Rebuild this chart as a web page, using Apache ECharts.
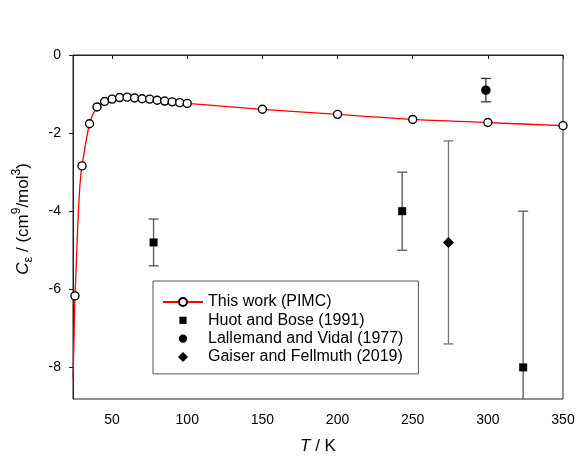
<!DOCTYPE html>
<html><head><meta charset="utf-8">
<script src="https://cdn.jsdelivr.net/npm/echarts@6/dist/echarts.min.js"></script>
<style>html,body{margin:0;padding:0;background:#fff}#c{width:578px;height:464px}</style>
</head><body><div id="c"></div>
<script>
// PIMC (this work) points
const pimcT = [25.3, 30, 35, 40, 45, 50, 55, 60, 65, 70, 75, 80, 85, 90, 95, 100, 150, 200, 250, 300, 350];
const pimcC = [-6.17, -2.84, -1.76, -1.33, -1.19, -1.13, -1.09, -1.08, -1.10, -1.12, -1.13, -1.16, -1.18, -1.20, -1.22, -1.24, -1.39, -1.52, -1.65, -1.73, -1.81];
// extra points at low T (no marker)
const curveT = [24.0, 24.5, 25.8, 26.5, 27.6, 28.7];
const curveC = [-8.26, -7.56, -5.75, -5.0, -4.0, -3.29];
// experimental data: T, value, error
const huotT = [77.6, 243, 323.5];
const huotC = [-4.8, -4.0, -8.0];
const huotE = [0.6, 1.0, 4.0];
const lallT = [298.7];
const lallC = [-0.9];
const lallE = [0.3];
const gaisT = [273.8];
const gaisC = [-4.8];
const gaisE = [2.6];
const xTicks = [50, 100, 150, 200, 250, 300, 350];
const yTicks = [0, -2, -4, -6, -8];

const FONT = 'Liberation Sans, Arial, sans-serif';

const lineData = [];
pimcT.forEach((t, i) => lineData.push({ value: [t, pimcC[i]] }));
curveT.forEach((t, i) => lineData.push({ value: [t, curveC[i]], symbol: 'none' }));
lineData.sort((a, b) => a.value[0] - b.value[0]);

function errSeries(T, C, E, color) {
  return {
    type: 'custom', name: '', silent: true, clip: true, z: 3,
    data: T.map((t, i) => [t, C[i], E[i]]),
    encode: { x: 0, y: 1 },
    renderItem: function (params, api) {
      const x = api.value(0), y = api.value(1), e = api.value(2);
      const top = api.coord([x, y + e]);
      const bot = api.coord([x, y - e]);
      const w = 5;
      const st = { stroke: color, lineWidth: 1.3 };
      return { type: 'group', children: [
        { type: 'line', shape: { x1: top[0], y1: top[1], x2: bot[0], y2: bot[1] }, style: st },
        { type: 'line', shape: { x1: top[0] - w, y1: top[1], x2: top[0] + w, y2: top[1] }, style: st },
        { type: 'line', shape: { x1: bot[0] - w, y1: bot[1], x2: bot[0] + w, y2: bot[1] }, style: st }
      ]};
    }
  };
}

// legend icons: shapes centred in a 40x10 box (invisible moveTo points fix the box)
const ICON_SQUARE = 'path://M0,0M40,10M16.4,1.4h7.2v7.2h-7.2z';
const ICON_CIRCLE = 'path://M0,0M40,10M24.2,5A4.2,4.2,0,1,1,15.8,5A4.2,4.2,0,1,1,24.2,5Z';
const ICON_DIAMOND = 'path://M0,0M40,10M20,0L25,5L20,10L15,5Z';

const chart = echarts.init(document.getElementById('c'), null, { renderer: 'canvas' });
chart.setOption({
  animation: false,
  backgroundColor: '#fff',
  textStyle: { fontFamily: FONT, color: '#000' },
  grid: { left: 73, right: 15, top: 55, bottom: 65, show: true, borderColor: '#222', borderWidth: 1, backgroundColor: 'transparent' },
  xAxis: {
    type: 'value', min: 24, max: 350,
    name: '{i|T} / K', nameLocation: 'middle', nameGap: 39,
    nameTextStyle: { fontFamily: FONT, fontSize: 17, color: '#000', rich: { i: { fontStyle: 'italic', fontSize: 17, fontFamily: FONT } } },
    axisLine: { show: true, lineStyle: { color: '#222', width: 1 } },
    axisTick: { show: true, length: 4, customValues: xTicks, lineStyle: { color: '#222' } },
    axisLabel: { customValues: xTicks, margin: 14, fontSize: 14, color: '#000', fontFamily: FONT },
    splitLine: { show: false }
  },
  yAxis: {
    type: 'value', min: -8.81, max: 0,
    name: '{i|C}{sub|ε} / (cm{sup|9}/mol{sup|3})', nameLocation: 'middle', nameGap: 38, nameRotate: 90,
    nameTextStyle: {
      fontFamily: FONT, fontSize: 17, color: '#000', lineHeight: 24, padding: [0, 0, 0, 16],
      rich: {
        i: { fontStyle: 'italic', fontSize: 17, fontFamily: FONT, lineHeight: 24 },
        sub: { fontSize: 13, fontFamily: FONT, verticalAlign: 'bottom', lineHeight: 17 },
        sup: { fontSize: 12, fontFamily: FONT, verticalAlign: 'top', lineHeight: 15 }
      }
    },
    axisLine: { show: true, lineStyle: { color: '#222', width: 1 } },
    axisTick: { show: true, length: 4, customValues: yTicks, lineStyle: { color: '#222' } },
    axisLabel: { customValues: yTicks, margin: 12, fontSize: 14, color: '#000', fontFamily: FONT },
    splitLine: { show: false }
  },
  legend: {
    left: 153, top: 281,
    orient: 'vertical',
    padding: [13, 15, 9, 9],
    borderColor: '#555', borderWidth: 1,
    backgroundColor: '#fff',
    itemWidth: 40, itemHeight: 10, itemGap: 2.3,
    textStyle: { fontFamily: FONT, fontSize: 16, lineHeight: 16, color: '#000' },
    data: [
      { name: 'This work (PIMC)' },
      { name: 'Huot and Bose (1991)', icon: ICON_SQUARE },
      { name: 'Lallemand and Vidal (1977)', icon: ICON_CIRCLE },
      { name: 'Gaiser and Fellmuth (2019)', icon: ICON_DIAMOND }
    ]
  },
  series: [
    {
      type: 'line', name: 'This work (PIMC)', data: lineData, smooth: 0.25,
      symbol: 'circle', symbolSize: 8, z: 4,
      lineStyle: { color: '#ff0000', width: 1.3 },
      itemStyle: { color: '#fff', borderColor: '#000', borderWidth: 1.4, opacity: 1 }
    },
    errSeries(huotT, huotC, huotE, '#555'),
    errSeries(lallT, lallC, lallE, '#333'),
    errSeries(gaisT, gaisC, gaisE, '#777'),
    {
      type: 'scatter', name: 'Huot and Bose (1991)', symbol: 'rect', symbolSize: 8, z: 5,
      data: huotT.map((t, i) => [t, huotC[i]]), itemStyle: { color: '#000', opacity: 1 }
    },
    {
      type: 'scatter', name: 'Lallemand and Vidal (1977)', symbol: 'circle', symbolSize: 9.5, z: 5,
      data: lallT.map((t, i) => [t, lallC[i]]), itemStyle: { color: '#000', opacity: 1 }
    },
    {
      type: 'scatter', name: 'Gaiser and Fellmuth (2019)', symbol: 'diamond', symbolSize: 11, z: 5,
      data: gaisT.map((t, i) => [t, gaisC[i]]), itemStyle: { color: '#000', opacity: 1 }
    }
  ]
});
</script>
</body></html>
